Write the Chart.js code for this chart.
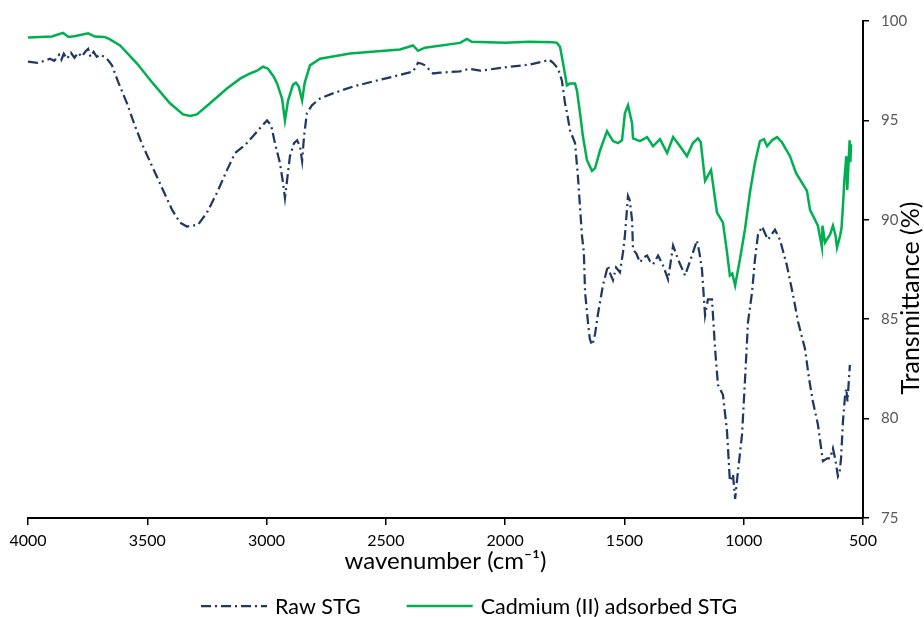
<!DOCTYPE html>
<html>
<head>
<meta charset="utf-8">
<script src="https://cdn.jsdelivr.net/npm/chart.js@4.4.1/dist/chart.umd.min.js"></script>
<style>
  html, body { margin: 0; padding: 0; background: #ffffff; }
  canvas { display: block; }
</style>
</head>
<body>
<canvas id="c" width="924" height="617"></canvas>
<script>
// ---- data ----
const seriesNames = ['Raw STG', 'Cadmium (II) adsorbed STG'];
const xTitle = 'wavenumber (cm\u207B\u00B9)';
const yTitle = 'Transmittance (%)';
const xTickValues = [4000, 3500, 3000, 2500, 2000, 1500, 1000, 500];
const yTickValues = [75, 80, 85, 90, 95, 100];

const rawWave = [4000,3960,3930,3908,3890,3870,3860,3850,3837,3820,3805,3790,3775,3760,3748,3738,3725,3712,3698,3680,3669,3648,3623,3585,3551,3518,3480,3438,3396,3363,3334,3310,3287,3250,3208,3166,3132,3090,3057,3028,2998,2981,2965,2944,2931,2923,2914,2902,2885,2872,2860,2851,2843,2831,2810,2776,2722,2638,2554,2470,2386,2365,2350,2336,2302,2273,2189,2150,2105,1980,1900,1841,1815,1799,1778,1762,1749,1741,1728,1707,1695,1678,1670,1665,1653,1645,1636,1630,1623,1611,1590,1569,1560,1548,1535,1519,1506,1498,1485,1478,1468,1464,1450,1435,1420,1405,1392,1380,1359,1340,1317,1296,1275,1246,1217,1196,1185,1175,1162,1150,1133,1120,1108,1087,1070,1058,1045,1036,1024,1007,995,982,965,953,940,923,910,898,869,848,819,793,772,743,726,710,689,672,668,650,638,626,617,605,598,592,584,575,570,565,555];
const rawT = [97.96,97.9,98.0,98.1,98.0,98.3,98.05,98.35,98.1,98.4,98.15,98.4,98.2,98.45,98.6,98.2,98.45,98.2,98.3,98.2,98.1,97.77,96.96,95.86,94.7,93.7,92.7,91.6,90.5,89.86,89.66,89.7,89.76,90.36,91.36,92.5,93.36,93.76,94.2,94.6,95.0,94.76,93.86,92.86,91.86,91.1,92.0,93.2,93.86,94.0,93.7,92.96,94.2,95.36,95.76,96.1,96.36,96.7,96.96,97.2,97.46,97.9,97.85,97.77,97.36,97.4,97.47,97.6,97.5,97.7,97.8,97.96,98.05,97.9,97.6,97.0,95.86,95.4,94.5,93.86,92.2,89.2,88.36,86.36,84.86,84.0,83.7,83.9,84.26,85.26,86.7,87.7,87.3,86.96,87.6,87.36,88.36,89.2,91.2,91.0,90.0,88.5,88.3,87.86,88.1,88.2,87.9,87.76,88.2,87.76,87.0,88.7,88.0,87.2,88.2,88.96,88.3,87.5,85.2,86.0,86.0,83.5,81.7,81.2,79.36,76.86,77.2,75.96,77.36,79.2,81.86,84.86,86.36,88.0,89.26,89.66,89.3,89.0,89.5,89.0,87.7,86.2,84.86,83.5,82.0,80.86,79.7,78.2,77.86,78.0,78.0,78.5,78.0,77.1,77.3,78.0,79.86,81.2,81.5,80.86,82.7];

const cdWave = [4000,3950,3900,3853,3830,3800,3748,3720,3680,3660,3614,3543,3476,3405,3350,3320,3292,3237,3166,3111,3069,3040,3015,2994,2970,2956,2935,2923,2910,2889,2877,2865,2851,2840,2818,2776,2650,2441,2386,2365,2336,2189,2160,2140,2000,1900,1800,1783,1770,1757,1741,1728,1707,1699,1686,1674,1657,1636,1623,1602,1573,1548,1527,1510,1498,1485,1468,1464,1435,1405,1380,1351,1321,1296,1267,1238,1213,1192,1180,1162,1137,1112,1087,1070,1058,1048,1036,1016,995,974,953,932,915,902,881,860,840,806,781,735,722,689,672,670,659,638,626,615,609,596,590,584,578,570,566,560,556,553,550];
const cdT = [99.17,99.2,99.22,99.4,99.2,99.25,99.38,99.22,99.2,99.1,98.77,97.86,96.86,95.86,95.3,95.22,95.3,95.86,96.6,97.1,97.36,97.5,97.7,97.6,97.2,96.86,96.1,95.0,96.0,96.8,96.9,96.7,96.0,96.9,97.77,98.1,98.36,98.57,98.77,98.5,98.66,98.9,99.1,98.95,98.9,98.95,98.93,98.9,98.7,97.86,96.76,96.86,96.86,96.5,95.36,94.2,93.0,92.46,92.6,93.5,94.46,93.96,93.86,94.0,95.36,95.76,94.86,94.1,93.96,94.16,93.7,94.06,93.36,94.16,93.7,93.2,93.86,94.1,93.9,91.96,92.5,90.36,89.86,88.36,87.2,87.3,86.7,88.0,89.5,91.36,92.86,93.96,94.06,93.7,94.0,94.16,93.9,93.2,92.36,91.46,90.5,89.7,88.6,89.7,88.86,89.26,89.7,89.2,88.6,89.2,89.6,90.7,92.0,93.2,91.5,93.0,94.0,92.9,93.8];

const toPoints = (xs, ys) => xs.map((x, i) => ({ x: x, y: ys[i] }));

// ---- plugins: rotated right-hand axis title and bottom legend ----
const yTitlePlugin = {
  id: 'yTitle',
  afterDraw(chart) {
    const ctx = chart.ctx;
    ctx.save();
    ctx.font = '25px Lato';
    ctx.fillStyle = '#000000';
    ctx.textAlign = 'center';
    ctx.textBaseline = 'middle';
    ctx.translate(911, 298);
    ctx.rotate(-Math.PI / 2);
    ctx.fillText(yTitle, 0, 0);
    ctx.restore();
  }
};

const legendPlugin = {
  id: 'bottomLegend',
  afterDraw(chart) {
    const ctx = chart.ctx;
    const ds = chart.data.datasets;
    ctx.save();
    ctx.font = '21.5px Lato';
    ctx.textBaseline = 'middle';
    ctx.textAlign = 'left';
    const sample = 66, gapText = 8, gapItem = 46;
    const widths = ds.map(d => sample + gapText + ctx.measureText(d.label).width);
    let x = 201;
    const y = 606;
    ds.forEach((d, i) => {
      ctx.save();
      ctx.strokeStyle = d.borderColor;
      ctx.lineWidth = d.borderWidth;
      ctx.setLineDash(d.borderDash || []);
      ctx.beginPath();
      ctx.moveTo(x, y);
      ctx.lineTo(x + sample, y);
      ctx.stroke();
      ctx.restore();
      ctx.fillStyle = '#000000';
      ctx.fillText(d.label, x + sample + gapText, y + 1);
      x += widths[i] + gapItem;
    });
    ctx.restore();
  }
};

new Chart(document.getElementById('c'), {
  type: 'line',
  data: {
    datasets: [
      {
        label: seriesNames[0],
        data: toPoints(rawWave, rawT),
        borderColor: '#1F3864',
        borderWidth: 2.25,
        borderDash: [10, 4, 2, 4],
        pointRadius: 0,
        fill: false,
        tension: 0
      },
      {
        label: seriesNames[1],
        data: toPoints(cdWave, cdT),
        borderColor: '#00B050',
        borderWidth: 2.5,
        pointRadius: 0,
        fill: false,
        tension: 0
      }
    ]
  },
  options: {
    responsive: false,
    animation: false,
    layout: { padding: { left: 28, right: 0, top: 17, bottom: 40 } },
    plugins: { legend: { display: false }, tooltip: { enabled: false } },
    scales: {
      x: {
        type: 'linear',
        reverse: true,
        min: 500,
        max: 4000,
        afterBuildTicks: s => { s.ticks = xTickValues.map(v => ({ value: v })); },
        afterFit: s => { s.height = 59; },
        ticks: { font: { family: 'Lato', size: 16 }, color: '#000000', padding: 6, maxRotation: 0, autoSkip: false, callback: v => String(v) },
        grid: { drawOnChartArea: false, drawTicks: true, tickLength: 7, color: '#000000', lineWidth: 1.5 },
        border: { display: true, color: '#000000', width: 2 },
        title: { display: true, text: xTitle, font: { family: 'Lato', size: 24 }, color: '#000000', padding: { top: 0, bottom: 1 } }
      },
      y: {
        type: 'linear',
        position: 'right',
        min: 75,
        max: 100,
        afterBuildTicks: s => { s.ticks = yTickValues.map(v => ({ value: v })); },
        afterFit: s => { s.width = 61; },
        ticks: { font: { family: 'Lato', size: 15 }, color: '#595959', padding: 12, callback: v => String(v) },
        grid: { drawOnChartArea: false, drawTicks: true, tickLength: 6, color: '#000000', lineWidth: 1.5 },
        border: { display: true, color: '#000000', width: 2 }
      }
    }
  },
  plugins: [yTitlePlugin, legendPlugin]
});
</script>
</body>
</html>
